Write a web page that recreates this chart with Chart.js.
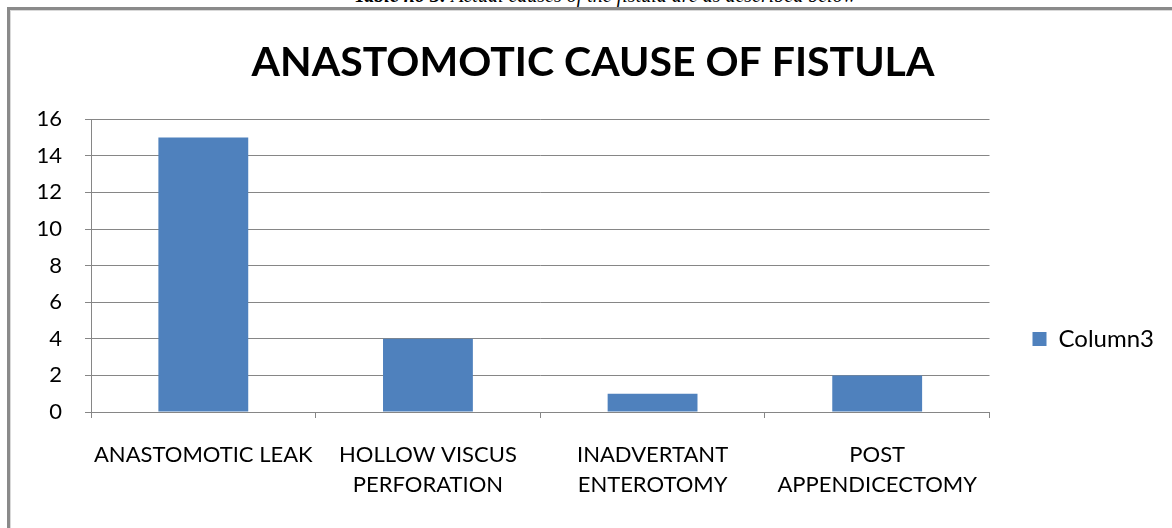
<!DOCTYPE html>
<html>
<head>
<meta charset="utf-8">
<script src="https://cdn.jsdelivr.net/npm/chart.js@4.4.1/dist/chart.umd.min.js"></script>
<style>
  html, body { margin: 0; padding: 0; background: #fff; width: 1172px; height: 528px; overflow: hidden; }
  #caption { position: absolute; top: -15px; left: 0; width: 1210px; text-align: center;
    font-family: "Liberation Serif", serif; font-style: italic; font-size: 20px; line-height: 20px; color: #000; white-space: nowrap; }
  #frame { position: absolute; left: 7px; top: 7px; width: 1200px; height: 700px;
    border-left: 3px solid #8a8a8a; border-top: 3px solid #8a8a8a; box-shadow: inset 1px 1px 0 #d9d9d9; }
  #wrap { position: absolute; left: 10px; top: 10px; width: 1162px; height: 658px; }
</style>
</head>
<body>
<div id="caption"><b>Table no 3:</b> Actual causes of the fistula are as described below</div>
<div id="frame"></div>
<div id="wrap"><canvas id="c"></canvas></div>
<script>
const chartTitle = "ANASTOMOTIC CAUSE OF FISTULA";
const categories = [
  ["ANASTOMOTIC LEAK"],
  ["HOLLOW VISCUS", "PERFORATION"],
  ["INADVERTANT", "ENTEROTOMY"],
  ["POST", "APPENDICECTOMY"]
];
const seriesName = "Column3";
const seriesValues = [15, 4, 1, 2];
const yTicks = [0, 2, 4, 6, 8, 10, 12, 14, 16];

const CANVAS_H = 658;
const PLOT_BOTTOM = 402;
const gridColor = "#868686";
const barColor = "#4F81BD";

new Chart(document.getElementById("c"), {
  type: "bar",
  data: {
    labels: categories,
    datasets: [{
      label: seriesName,
      data: seriesValues,
      backgroundColor: barColor,
      borderWidth: 0,
      categoryPercentage: 1.0,
      barPercentage: 0.4
    }]
  },
  options: {
    responsive: true,
    maintainAspectRatio: false,
    animation: false,
    devicePixelRatio: 1,
    layout: { padding: { left: 12, right: 8, top: 0, bottom: 0 } },
    plugins: {
      title: {
        display: true,
        text: chartTitle,
        color: "#000",
        font: { family: "Lato", size: 41, weight: "bold", lineHeight: 1.2 },
        padding: { top: 28, bottom: 32 }
      },
      legend: {
        display: true,
        position: "right",
        align: "center",
        labels: {
          color: "#000",
          font: { family: "Lato", size: 24 },
          boxWidth: 14,
          boxHeight: 14,
          padding: 43
        }
      },
      tooltip: { enabled: false }
    },
    scales: {
      x: {
        offset: true,
        grid: { display: true, drawOnChartArea: false, drawTicks: true, tickLength: 6, color: gridColor, offset: true },
        border: { display: true, color: gridColor, width: 1 },
        ticks: {
          color: "#000",
          font: { family: "Lato", size: 22, lineHeight: 1.364 },
          padding: 22,
          maxRotation: 0,
          autoSkip: false
        },
        afterFit: (s) => { s.height = CANVAS_H - PLOT_BOTTOM; }
      },
      y: {
        min: yTicks[0],
        max: yTicks[yTicks.length - 1],
        afterBuildTicks: (s) => { s.ticks = yTicks.map(v => ({ value: v })); },
        grid: { color: gridColor, lineWidth: 1, drawTicks: true, tickLength: 6 },
        border: { display: true, color: gridColor, width: 1 },
        ticks: {
          color: "#000",
          font: { family: "Lato", size: 22 },
          padding: 23
        },
        afterFit: (s) => { s.width = 69; }
      }
    }
  }
});
</script>
</body>
</html>
